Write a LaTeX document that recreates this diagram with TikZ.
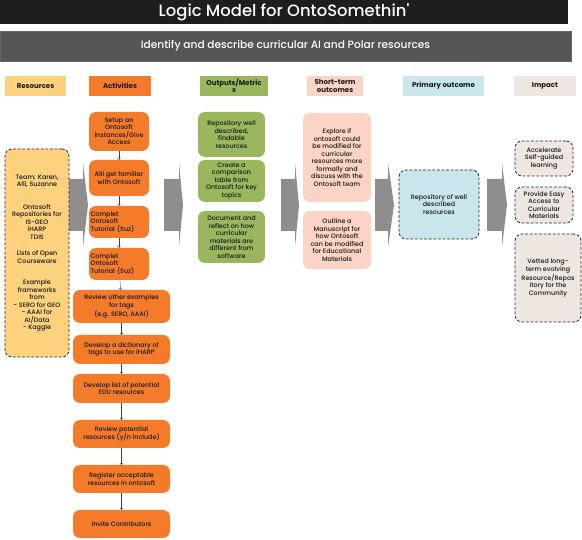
\documentclass[tikz,border=0pt]{standalone}
\usepackage{fontspec}
\setmainfont{Poppins}
\newfontfamily\medfont{Poppins Medium}
\usetikzlibrary{positioning}

\definecolor{titleblack}{HTML}{1E1E1E}
\definecolor{subgray}{HTML}{555555}
\definecolor{resyellow}{HTML}{FDD27F}
\definecolor{actorange}{HTML}{F37B2A}
\definecolor{outgreen}{HTML}{9BB75D}
\definecolor{stpink}{HTML}{FBD4C5}
\definecolor{primblue}{HTML}{C8E6EB}
\definecolor{impbeige}{HTML}{EEE6E1}
\definecolor{arrowgray}{HTML}{8E8E8E}

\tikzset{
  box/.style={rounded corners=7pt, align=center, inner sep=1pt, text=black!90,
    font=\fontsize{6.4}{7.5}\medfont},
  head/.style={minimum height=20pt, inner sep=0pt, align=center, text=black!90,
    font=\fontsize{7}{7.4}\selectfont\bfseries},
  dashbox/.style={draw=black!85, dash pattern=on 2.8pt off 1.8pt, line width=0.8pt},
  flow/.style={fill=arrowgray},
  link/.style={->, draw=black!75, line width=0.4pt},
}

\begin{document}
\begin{tikzpicture}[x=1pt, y=-1pt]
\useasboundingbox (0,0) rectangle (582,540);

% banners
\node (title) [fill=titleblack, text=white, minimum width=568pt, minimum height=24pt, inner sep=0pt,
  font=\fontsize{16.4}{18}\medfont] at (284,12) {Logic Model for OntoSomethin'};
\node (goal) [fill=subgray, draw=black!60, text=white, minimum width=571pt, minimum height=30pt, inner sep=0pt,
  font=\fontsize{10.6}{12}\medfont] at (285.5,46) {Identify and describe curricular AI and Polar resources};

% column headers
\node (hres) [head, fill=resyellow, minimum width=61pt] at (35.5,86) {Resources};
\node (hact) [head, fill=actorange, minimum width=62pt] at (120,86) {Activities};
\node (hout) [head, fill=outgreen, minimum width=68pt] at (234,86) {Outputs/Metric\\s};
\node (hst) [head, fill=stpink, minimum width=56pt] at (335,86) {Short-term\\outcomes};
\node (hprim) [head, fill=primblue, minimum width=81pt] at (443.5,86) {Primary outcome};
\node (himp) [head, fill=impbeige, minimum width=62pt] at (545,86) {Impact};

% block arrows between columns
\foreach \a/\b/\c in {69/83/88, 164/179/183, 281/295/299, 375/388/394, 487/502/507}
  \fill[flow] (\a,179) -- (\b,179) -- (\b,163) -- (\c,205) -- (\b,247) -- (\b,231) -- (\a,231) -- cycle;

% resources
\node (res) [box, dashbox, fill=resyellow, minimum width=64pt, minimum height=208pt] at (37,253)
  {Team: Karen,\\Alli, Suzanne\\[15pt]
   Ontosoft\\Repositories for\\IS-GEO\\iHARP\\TDIS\\[9pt]
   Lists of Open\\Courseware\\[14pt]
   Example\\frameworks\\from\\- SERO for GEO\\- AAAI for\\AI/Data\\- Kaggle};

% activities
\node (a1) [box, fill=actorange, minimum width=60pt, minimum height=39pt] at (119,131.5)
  {Setup an\\Ontosoft\\Instances/Give\\Access};
\node (a2) [box, fill=actorange, minimum width=60pt, minimum height=36pt] at (119,178)
  {Alli get familiar\\with Ontosoft};
\node (a3) [box, fill=actorange, minimum width=60pt, minimum height=32pt, align=left, text width=57pt] at (119,222)
  {Complet\\Ontosoft\\Tutorial (Suz)};
\node (a4) [box, fill=actorange, minimum width=60pt, minimum height=32pt, align=left, text width=57pt] at (119,264)
  {Complet\\Ontosoft\\Tutorial (Suz)};
\node (a5) [box, fill=actorange, minimum width=97pt, minimum height=33pt] at (121.5,306.5)
  {Review other examples\\for tags\\(e.g. SERO, AAAI)};
\node (a6) [box, fill=actorange, minimum width=97pt, minimum height=29pt] at (121.5,349.5)
  {Develop a dictionary of\\tags to use for iHARP};
\node (a7) [box, fill=actorange, minimum width=97pt, minimum height=29pt] at (121.5,388.5)
  {Develop list of potential\\EDU resources};
\node (a8) [box, fill=actorange, minimum width=97pt, minimum height=28pt] at (121.5,434)
  {Review potential\\resources (y/n include)};
\node (a9) [box, fill=actorange, minimum width=97pt, minimum height=28pt] at (121.5,479)
  {Register acceptable\\resources in ontosoft};
\node (a10) [box, fill=actorange, minimum width=97pt, minimum height=28pt] at (121.5,524)
  {Invite Contributors};

\draw [link] (a1) to (a2);
\draw [link] (a2) to (a3);
\draw [link] (a3) to (a4);
\draw [link] (a4) to (a5);
\draw [link] (a5) to (a6);
\draw [link] (a6) to (a7);
\draw [link] (a7) to (a8);
\draw [link] (a8) to (a9);
\draw [link] (a9) to (a10);

% outputs
\node (o1) [box, fill=outgreen, minimum width=67pt, minimum height=45pt] at (231.5,134.5)
  {Repository well\\described,\\findable\\resources};
\node (o2) [box, fill=outgreen, minimum width=67pt, minimum height=42pt] at (231.5,181)
  {Create a\\comparison\\table from\\Ontosoft for key\\topics};
\node (o3) [box, fill=outgreen, minimum width=67pt, minimum height=52pt] at (231.5,237)
  {Document and\\reflect on how\\curricular\\materials are\\different from\\software};

% short-term outcomes
\node (s1) [box, fill=stpink, minimum width=68pt, minimum height=89pt] at (337,157.5)
  {Explore if\\ontosoft could\\be modified for\\curricular\\resources more\\formally and\\discuss with the\\Ontosoft team};
\node (s2) [box, fill=stpink, minimum width=68pt, minimum height=58pt] at (337,240)
  {Outline a\\Manuscript for\\how Ontosoft\\can be modified\\for Educational\\Materials};

% primary outcome
\node (p1) [box, dashbox, fill=primblue, minimum width=80pt, minimum height=69pt] at (439,204.5)
  {Repository of well\\described\\resources};

% impact
\node (i1) [box, dashbox, fill=impbeige, minimum width=58pt, minimum height=35pt] at (544,158.5)
  {Accelerate\\Self-guided\\learning};
\node (i2) [box, dashbox, fill=impbeige, minimum width=58pt, minimum height=36pt] at (544,205)
  {Provide Easy\\Access to\\Curricular\\Materials};
\node (i3) [box, dashbox, fill=impbeige, minimum width=66pt, minimum height=88pt] at (548,278)
  {Vetted long-\\term evolving\\Resource/Repos\\itory for the\\Community};
\end{tikzpicture}
\end{document}
